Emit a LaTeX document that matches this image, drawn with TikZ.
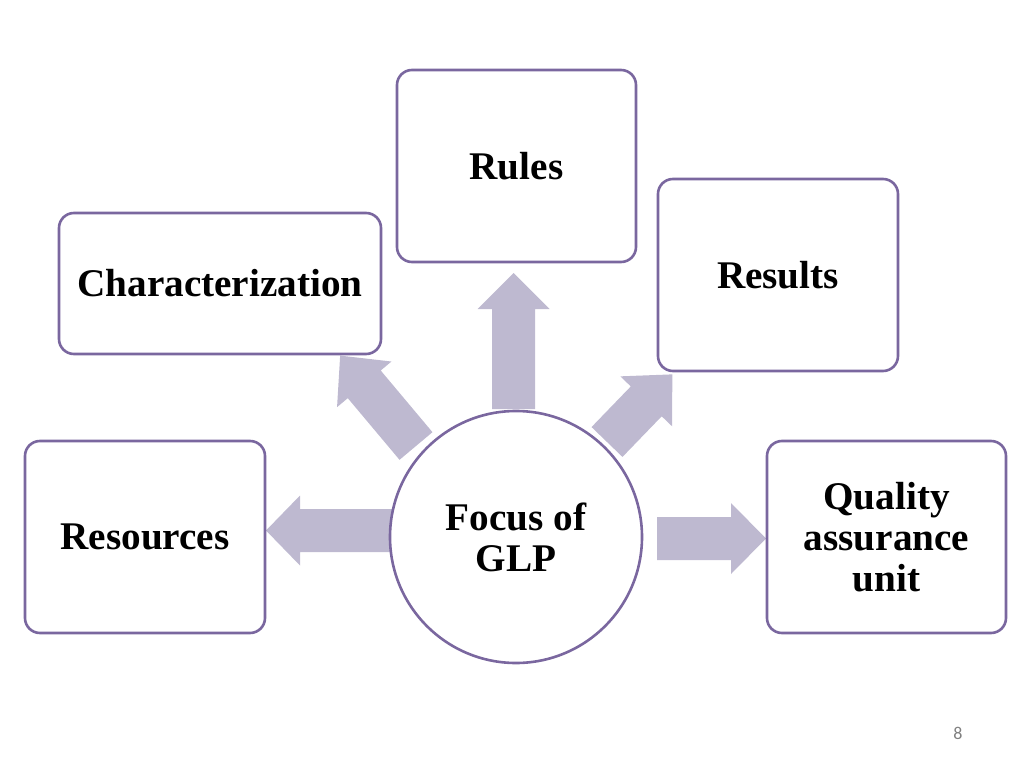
\documentclass[tikz,border=0pt]{standalone}
\usepackage{fontspec}
\setmainfont{Liberation Serif}
\newfontfamily\pagefont{Carlito}
\definecolor{boxline}{HTML}{7A679F}
\definecolor{arrowfill}{HTML}{BEB9D0}
\tikzset{
  box/.style={draw=boxline, line width=1.3pt, rounded corners=7.5pt, fill=white,
    align=center, inner sep=0pt, font=\bfseries\fontsize{19.6}{20.5}\selectfont},
  hub/.style={draw=boxline, line width=1.3pt, circle, fill=white, minimum size=126pt,
    align=center, inner sep=0pt, font=\bfseries\fontsize{19.6}{20.5}\selectfont},
  blockarrow/.style={fill=arrowfill, draw=none}
}
% #1 base coordinate name, #2 angle, #3 length, #4 shaft half width, #5 head half width, #6 head length
\newcommand{\blockarr}[6]{%
  \begin{scope}[shift={(#1)}, rotate=#2]
    \fill[blockarrow] (0,-#4) -- ({#3-#6},-#4) -- ({#3-#6},-#5) -- (#3,0) -- ({#3-#6},#5) -- ({#3-#6},#4) -- (0,#4) -- cycle;
  \end{scope}}
\begin{document}
\begin{tikzpicture}[x=0.5pt, y=0.5pt]
\useasboundingbox (0,0) rectangle (1024,768);
% arrow base points
\coordinate (aUp) at (513.5,359);
\coordinate (aLeft) at (392,237.5);
\coordinate (aRight) at (657,229.5);
\coordinate (aUL) at (416,322);
\coordinate (aUR) at (607,326);
\blockarr{aUp}{90}{136}{21.5}{36}{36}
\blockarr{aLeft}{180}{126}{21.5}{35}{34}
\blockarr{aRight}{0}{109}{21.5}{35.5}{35}
\blockarr{aUL}{130}{118}{21.5}{35.5}{37.5}
\blockarr{aUR}{46}{94}{21.5}{36}{37.5}
% nodes
\node[hub] (focus) at (516,231) {Focus of\\GLP};
\node[box, minimum width=119.5pt, minimum height=96pt] (rules) at (516.5,602) {Rules};
\node[box, minimum width=161pt, minimum height=70.5pt] (char) at (220,484.5) {Characterization};
\node[box, minimum width=120pt, minimum height=96pt] (results) at (778,493) {Results};
\node[box, minimum width=120pt, minimum height=96pt] (res) at (145,231) {Resources};
\node[box, minimum width=119.5pt, minimum height=96pt] (qa) at (886.5,231) {Quality\\assurance\\unit};
\node[font=\pagefont\fontsize{9}{10}\selectfont, text=gray] (page) at (958,35) {8};
\end{tikzpicture}
\end{document}
